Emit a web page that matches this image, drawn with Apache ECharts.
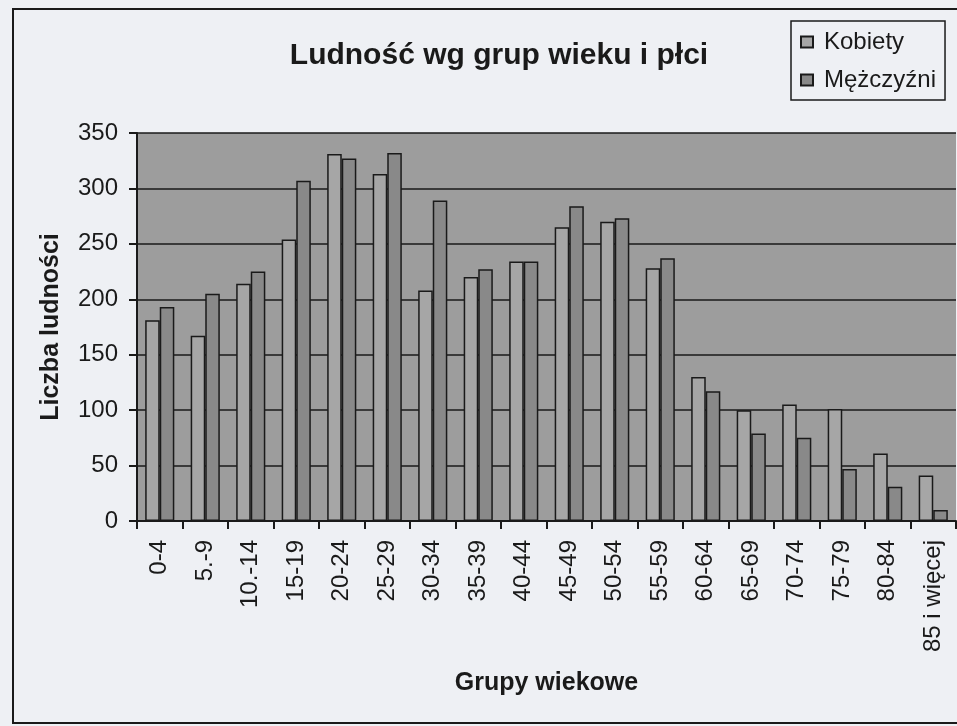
<!DOCTYPE html>
<html>
<head>
<meta charset="utf-8">
<script src="https://cdn.jsdelivr.net/npm/echarts@6/dist/echarts.min.js"></script>
<style>
  html, body { margin: 0; padding: 0; background: #eef0f4; }
  #chart { width: 957px; height: 726px; }
</style>
</head>
<body>
<div id="chart"></div>
<script>
const categories = ["0-4", "5.-9", "10.-14", "15-19", "20-24", "25-29", "30-34", "35-39", "40-44", "45-49", "50-54", "55-59", "60-64", "65-69", "70-74", "75-79", "80-84", "85 i więcej"];
const kobiety = [181, 167, 214, 254, 331, 313, 208, 220, 234, 265, 270, 228, 130, 100, 105, 101, 61, 41];
const mezczyzni = [193, 205, 225, 307, 327, 332, 289, 227, 234, 284, 273, 237, 117, 79, 75, 47, 31, 10];
const yMin = 0, yMax = 350, yStep = 50;

const FONT = "'Liberation Sans', Arial, sans-serif";
const chart = echarts.init(document.getElementById('chart'), null, { renderer: 'canvas' });

chart.setOption({
  backgroundColor: '#eef0f4',
  animation: false,
  textStyle: { fontFamily: FONT, color: '#1a1a1a' },
  graphic: [{
    type: 'rect',
    shape: { x: 13, y: 9, width: 1000, height: 714 },
    style: { fill: 'none', stroke: '#1a1a1a', lineWidth: 2 },
    z: 100
  }],
  title: {
    text: 'Ludność wg grup wieku i płci',
    left: 494,
    textAlign: 'center',
    top: 36,
    textStyle: { fontFamily: FONT, fontSize: 30, fontWeight: 'bold', color: '#1a1a1a' }
  },
  legend: {
    orient: 'vertical',
    left: 791,
    top: 21,
    padding: [9, 9, 8, 9],
    itemWidth: 12,
    itemHeight: 11,
    itemGap: 14,
    icon: 'rect',
    borderColor: '#1a1a1a',
    borderWidth: 1.5,
    backgroundColor: '#eef0f4',
    textStyle: { fontFamily: FONT, fontSize: 24, color: '#1a1a1a', padding: [0, 0, 0, 6] },
    data: ['Kobiety', 'Mężczyźni']
  },
  grid: {
    left: 137, right: 1, top: 133, bottom: 205,
    show: true,
    backgroundColor: '#9d9d9d',
    borderWidth: 0
  },
  xAxis: {
    type: 'category',
    data: categories,
    name: 'Grupy wiekowe',
    nameLocation: 'middle',
    nameGap: 150,
    nameTextStyle: { fontFamily: FONT, fontSize: 25, fontWeight: 'bold', color: '#1a1a1a' },
    axisLine: { lineStyle: { color: '#1a1a1a', width: 2 } },
    axisTick: { show: true, length: 8, lineStyle: { color: '#1a1a1a', width: 2 } },
    axisLabel: { rotate: 90, margin: 19, fontSize: 24, fontFamily: FONT, color: '#1a1a1a', interval: 0 }
  },
  yAxis: {
    type: 'value',
    min: yMin, max: yMax, interval: yStep,
    name: 'Liczba ludności',
    nameLocation: 'middle',
    nameGap: 73,
    nameTextStyle: { fontFamily: FONT, fontSize: 25, fontWeight: 'bold', color: '#1a1a1a' },
    axisLine: { show: true, lineStyle: { color: '#1a1a1a', width: 2 } },
    axisTick: { show: true, length: 8, lineStyle: { color: '#1a1a1a', width: 2 } },
    axisLabel: { margin: 19, fontSize: 24, fontFamily: FONT, color: '#1a1a1a' },
    splitLine: { show: true, lineStyle: { color: '#1a1a1a', width: 1.5 } }
  },
  series: [
    {
      name: 'Kobiety',
      type: 'bar',
      data: kobiety,
      barGap: '0%',
      barCategoryGap: '36%',
      itemStyle: { color: '#a6a6a6', borderColor: '#1a1a1a', borderWidth: 1.5 }
    },
    {
      name: 'Mężczyźni',
      type: 'bar',
      data: mezczyzni,
      barGap: '0%',
      barCategoryGap: '36%',
      itemStyle: { color: '#898989', borderColor: '#1a1a1a', borderWidth: 1.5 }
    }
  ]
});
</script>
</body>
</html>
